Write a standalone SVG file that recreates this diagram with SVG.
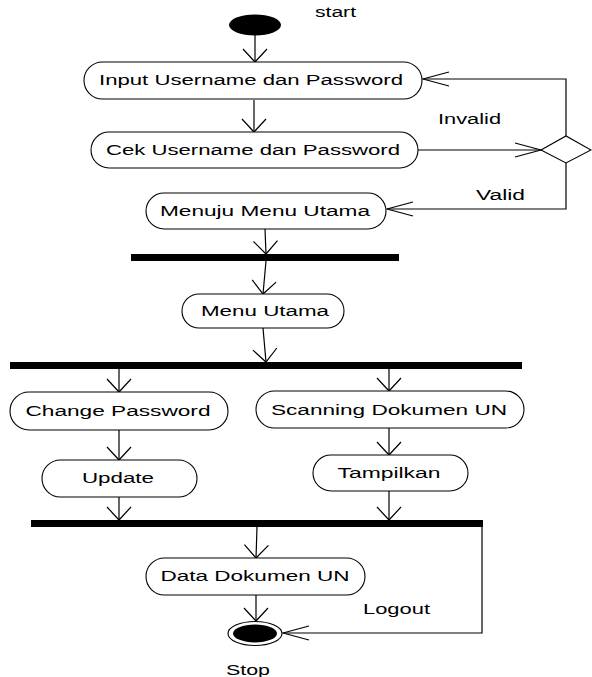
<svg xmlns="http://www.w3.org/2000/svg" width="592" height="677" viewBox="0 0 592 677">
<style>
.node{fill:#fff;stroke:#000;stroke-width:1.1}
.bar{fill:#000}
.lbl{font-family:"Liberation Sans",Arial,sans-serif;font-size:14px;fill:#000}
.c{text-anchor:middle}
.edge{fill:none;stroke:#000;stroke-width:1.2}
</style>
<defs>
<marker id="av" markerUnits="userSpaceOnUse" orient="auto" overflow="visible" markerWidth="1" markerHeight="1"><path d="M-13,-12 L0,0 L-13,12" fill="none" stroke="#000" stroke-width="1.2"/></marker>
<marker id="ah" markerUnits="userSpaceOnUse" orient="auto" overflow="visible" markerWidth="1" markerHeight="1"><path d="M-26,-7 L0,0 L-26,7" fill="none" stroke="#000" stroke-width="1.1"/></marker>
</defs>
<g id="connectors">
<path class="edge" d="M255,35 L255,62" marker-end="url(#av)"/>
<path class="edge" d="M254,100 L254,132" marker-end="url(#av)"/>
<path class="edge" d="M418,150 L541,150" marker-end="url(#ah)"/>
<path class="edge" d="M566,136 L566,79 L423,79" marker-end="url(#ah)"/>
<path class="edge" d="M566,163 L566,209 L387,209" marker-end="url(#ah)"/>
<path class="edge" d="M265,229 L266,254" marker-end="url(#av)"/>
<path class="edge" d="M266,261 L263,294" marker-end="url(#av)"/>
<path class="edge" d="M263,328 L266,362" marker-end="url(#av)"/>
<path class="edge" d="M119,369 L119,392" marker-end="url(#av)"/>
<path class="edge" d="M389,369 L389,391" marker-end="url(#av)"/>
<path class="edge" d="M119,430 L119,460" marker-end="url(#av)"/>
<path class="edge" d="M389,428 L389,455" marker-end="url(#av)"/>
<path class="edge" d="M119,497 L119,520" marker-end="url(#av)"/>
<path class="edge" d="M389,491 L389,520" marker-end="url(#av)"/>
<path class="edge" d="M257,527 L256,558" marker-end="url(#av)"/>
<path class="edge" d="M256,595 L256,621" marker-end="url(#av)"/>
<path class="edge" d="M482,527 L482,633 L283,633" marker-end="url(#ah)"/>
<text class="lbl" x="438" y="124" textLength="63" lengthAdjust="spacingAndGlyphs">Invalid</text>
<text class="lbl" x="476" y="200" textLength="49" lengthAdjust="spacingAndGlyphs">Valid</text>
<text class="lbl" x="363" y="614" textLength="67" lengthAdjust="spacingAndGlyphs">Logout</text>
</g>
<g id="start">
<ellipse cx="255" cy="25" rx="26" ry="10.5" fill="#000"/>
<text class="lbl" x="315" y="17" textLength="41" lengthAdjust="spacingAndGlyphs">start</text>
</g>
<g id="input">
<rect class="node" x="84" y="62" width="338" height="37" rx="18.5"/>
<text class="lbl c" x="251" y="85" textLength="304" lengthAdjust="spacingAndGlyphs">Input Username dan Password</text>
</g>
<g id="cek">
<rect class="node" x="91" y="132" width="327" height="36" rx="18"/>
<text class="lbl c" x="253" y="155" textLength="294" lengthAdjust="spacingAndGlyphs">Cek Username dan Password</text>
</g>
<g id="decision">
<polygon class="node" points="541,150 566,136 591,150 566,163"/>
</g>
<g id="menuju">
<rect class="node" x="146" y="193" width="240" height="36" rx="18"/>
<text class="lbl c" x="265" y="216" textLength="210" lengthAdjust="spacingAndGlyphs">Menuju Menu Utama</text>
</g>
<g id="bar1"><rect class="bar" x="131" y="254" width="268" height="7"/></g>
<g id="menu">
<rect class="node" x="182" y="294" width="162" height="34" rx="17"/>
<text class="lbl c" x="265" y="316" textLength="128" lengthAdjust="spacingAndGlyphs">Menu Utama</text>
</g>
<g id="bar2"><rect class="bar" x="10" y="362" width="512" height="7"/></g>
<g id="change">
<rect class="node" x="10" y="392" width="218" height="38" rx="19"/>
<text class="lbl c" x="118" y="416" textLength="185" lengthAdjust="spacingAndGlyphs">Change Password</text>
</g>
<g id="scan">
<rect class="node" x="256" y="391" width="268" height="37" rx="18.5"/>
<text class="lbl c" x="389" y="415" textLength="236" lengthAdjust="spacingAndGlyphs">Scanning Dokumen UN</text>
</g>
<g id="update">
<rect class="node" x="42" y="460" width="155" height="37" rx="18.5"/>
<text class="lbl c" x="118" y="483" textLength="72" lengthAdjust="spacingAndGlyphs">Update</text>
</g>
<g id="tampilkan">
<rect class="node" x="313" y="455" width="155" height="36" rx="18"/>
<text class="lbl c" x="389" y="478" textLength="103" lengthAdjust="spacingAndGlyphs">Tampilkan</text>
</g>
<g id="bar3"><rect class="bar" x="31" y="520" width="452" height="7"/></g>
<g id="data">
<rect class="node" x="146" y="558" width="219" height="37" rx="18.5"/>
<text class="lbl c" x="255" y="581" textLength="189" lengthAdjust="spacingAndGlyphs">Data Dokumen UN</text>
</g>
<g id="stop">
<ellipse class="node" cx="255" cy="633.5" rx="27" ry="12"/>
<ellipse cx="255" cy="633.5" rx="22" ry="9" fill="#000"/>
<text class="lbl c" x="248" y="675" textLength="44" lengthAdjust="spacingAndGlyphs">Stop</text>
</g>
</svg>
